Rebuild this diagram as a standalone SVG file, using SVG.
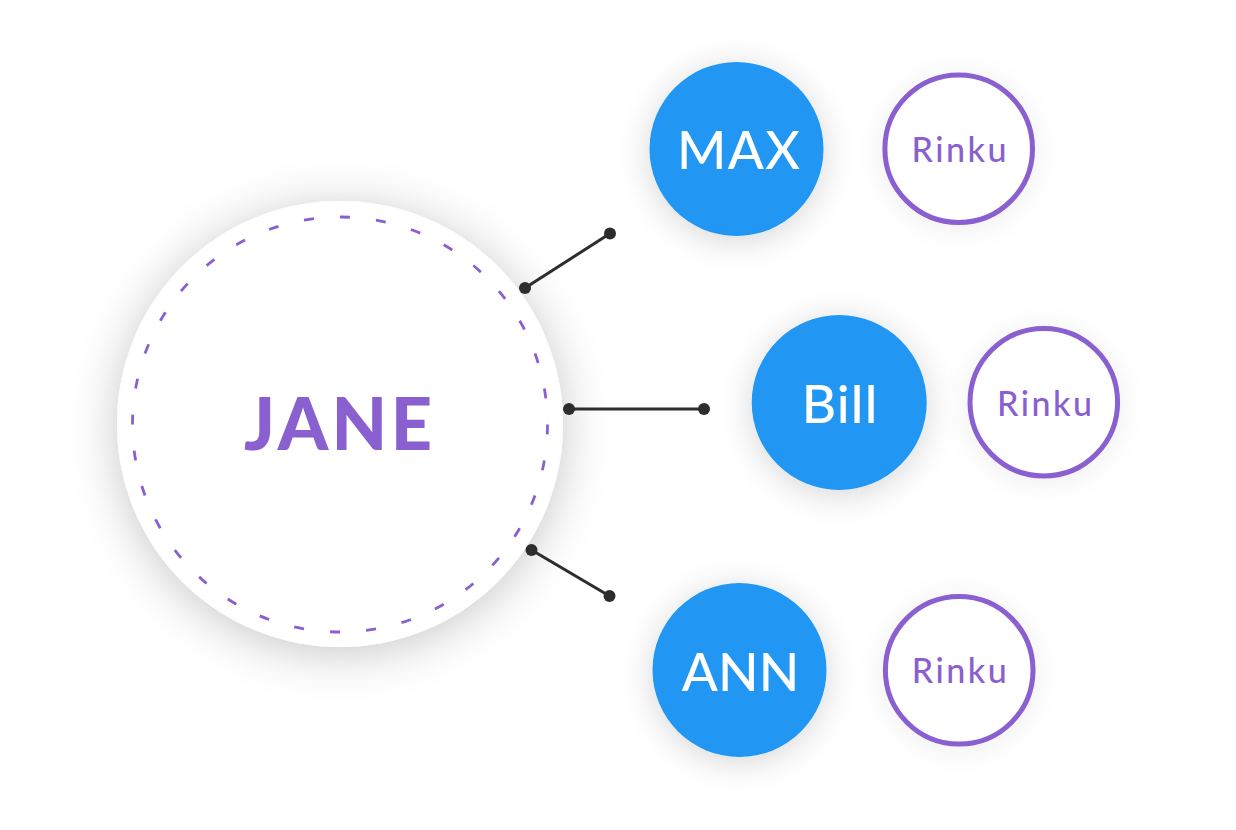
<svg xmlns="http://www.w3.org/2000/svg" width="1236" height="830" viewBox="0 0 1236 830">
  <defs>
    <filter id="shBig" x="-50%" y="-50%" width="200%" height="200%">
      <feDropShadow dx="0" dy="6" stdDeviation="24" flood-color="#000" flood-opacity="0.22"/>
    </filter>
    <filter id="shMid" x="-60%" y="-60%" width="220%" height="220%">
      <feDropShadow dx="0" dy="5" stdDeviation="16" flood-color="#000" flood-opacity="0.16"/>
    </filter>
    <filter id="shSmall" x="-60%" y="-60%" width="220%" height="220%">
      <feDropShadow dx="0" dy="3" stdDeviation="14" flood-color="#000" flood-opacity="0.07"/>
    </filter>
  </defs>
  <style>
    .main { fill: #ffffff; filter: url(#shBig); }
    .dash { fill: none; stroke: #8a5fcf; stroke-width: 2.8; stroke-dasharray: 10 26.2; }
    .blue { fill: #2196f3; filter: url(#shMid); }
    .ring { fill: #ffffff; stroke: #8a5fcf; stroke-width: 5; filter: url(#shSmall); }
    .bname { font-family: Lato, "Open Sans", sans-serif; font-weight: 500; font-size: 53px; fill: #ffffff; text-anchor: middle; }
    .rname { font-family: Lato, "Open Sans", sans-serif; font-weight: 500; font-size: 34px; fill: #8a5fcf; text-anchor: middle; }
    .jname { font-family: Lato, "Open Sans", sans-serif; font-weight: 900; font-size: 72px; fill: #8a5fcf; text-anchor: middle; }
    .link { stroke: #2d2d2d; stroke-width: 3; fill: none; }
    .dot { fill: #2d2d2d; }
  </style>
  <rect width="1236" height="830" fill="#ffffff"/>

  <g id="jane">
    <circle class="main" cx="340" cy="424" r="223"/>
    <circle class="dash" cx="340" cy="424.5" r="207.5"/>
    <text class="jname" x="338" y="450" textLength="188">JANE</text>
  </g>

  <g id="connectors">
    <line class="link" x1="525" y1="288" x2="610" y2="233.5"/>
    <circle class="dot" cx="525" cy="288" r="6"/>
    <circle class="dot" cx="610" cy="233.5" r="6"/>
    <line class="link" x1="569" y1="409" x2="704" y2="409"/>
    <circle class="dot" cx="569" cy="409" r="6"/>
    <circle class="dot" cx="704" cy="409" r="6"/>
    <line class="link" x1="531.5" y1="550" x2="609.5" y2="596"/>
    <circle class="dot" cx="531.5" cy="550" r="6"/>
    <circle class="dot" cx="609.5" cy="596" r="6"/>
  </g>

  <g id="max">
    <circle class="blue" cx="736.5" cy="149" r="87"/>
    <text class="bname" x="738.5" y="169" textLength="123">MAX</text>
  </g>
  <g id="rinku1">
    <circle class="ring" cx="958.7" cy="148.7" r="73.8"/>
    <text class="rname" x="959" y="161.7" textLength="95">Rinku</text>
  </g>

  <g id="bill">
    <circle class="blue" cx="839.2" cy="402.5" r="87.5"/>
    <text class="bname" x="839.5" y="423.3" textLength="75.6">Bill</text>
  </g>
  <g id="rinku2">
    <circle class="ring" cx="1043.8" cy="402.2" r="73.8"/>
    <text class="rname" x="1044.5" y="415.5" textLength="95">Rinku</text>
  </g>

  <g id="ann">
    <circle class="blue" cx="739.5" cy="670" r="87"/>
    <text class="bname" x="740.5" y="691" textLength="117.6">ANN</text>
  </g>
  <g id="rinku3">
    <circle class="ring" cx="959.2" cy="670.3" r="73.8"/>
    <text class="rname" x="959.2" y="683.3" textLength="95">Rinku</text>
  </g>
</svg>
